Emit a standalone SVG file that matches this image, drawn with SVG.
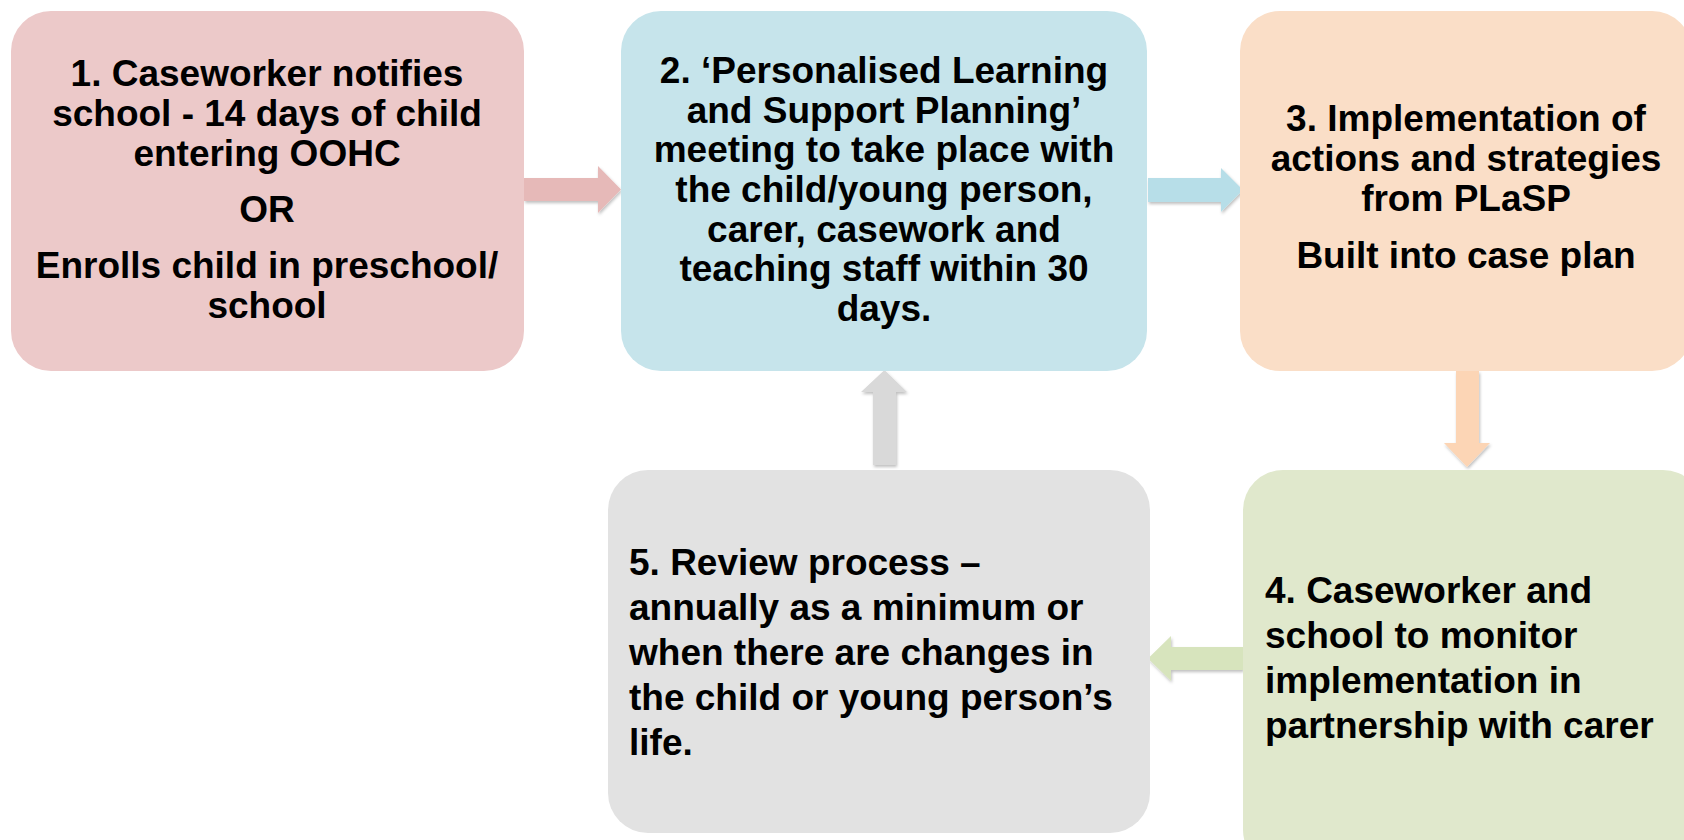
<svg xmlns="http://www.w3.org/2000/svg" width="1684" height="840" viewBox="0 0 1684 840">
<style>
text{font-family:"Liberation Sans",Arial,sans-serif;font-weight:bold;font-size:37px;fill:#000}
.c{text-anchor:middle}
</style>
<defs>
<filter id="sh" x="-20%" y="-20%" width="140%" height="140%">
<feDropShadow dx="1" dy="2" stdDeviation="1.5" flood-color="#000" flood-opacity="0.25"/>
</filter>
</defs>
<rect width="1684" height="840" fill="#fff"/>
<g id="connectors" filter="url(#sh)">
<polygon points="524,178 598,178 598,166 621,189.5 598,213 598,201 524,201" fill="#e6b9b8"/>
<polygon points="1148,178 1221,178 1221,168 1243,190 1221,212 1221,202 1148,202" fill="#b7dee8"/>
<polygon points="1456,371 1479,371 1479,443 1490,443 1467,467 1444,443 1456,443" fill="#fcd5b5"/>
<polygon points="1243,647 1171,647 1171,636 1148,658.5 1171,681 1171,670 1243,670" fill="#d7e4bd"/>
<polygon points="873,465 873,392 861,392 884.5,370 907,392 896,392 896,465" fill="#d9d9d9"/>
</g>
<g id="node1">
<rect x="11" y="11" width="513" height="360" rx="40" fill="#ecc9c9"/>
<text class="c" x="267" y="86">1. Caseworker notifies</text>
<text class="c" x="267" y="126">school - 14 days of child</text>
<text class="c" x="267" y="166">entering OOHC</text>
<text class="c" x="267" y="222">OR</text>
<text class="c" x="267" y="278">Enrolls child in preschool/</text>
<text class="c" x="267" y="318">school</text>
</g>
<g id="node2">
<rect x="621" y="11" width="526" height="360" rx="40" fill="#c6e4eb"/>
<text class="c" x="884" y="83">2. ‘Personalised Learning</text>
<text class="c" x="884" y="123">and Support Planning’</text>
<text class="c" x="884" y="162">meeting to take place with</text>
<text class="c" x="884" y="202">the child/young person,</text>
<text class="c" x="884" y="242">carer, casework and</text>
<text class="c" x="884" y="281">teaching staff within 30</text>
<text class="c" x="884" y="321">days.</text>
</g>
<g id="node3">
<rect x="1240" y="11" width="452" height="360" rx="40" fill="#fadec7"/>
<text class="c" x="1466" y="131">3. Implementation of</text>
<text class="c" x="1466" y="171">actions and strategies</text>
<text class="c" x="1466" y="211">from PLaSP</text>
<text class="c" x="1466" y="268">Built into case plan</text>
</g>
<g id="node4">
<rect x="1243" y="470" width="460" height="400" rx="40" fill="#e0e8cc"/>
<text x="1265" y="603">4. Caseworker and</text>
<text x="1265" y="648">school to monitor</text>
<text x="1265" y="693">implementation in</text>
<text x="1265" y="738">partnership with carer</text>
</g>
<g id="node5">
<rect x="608" y="470" width="542" height="363" rx="40" fill="#e2e2e2"/>
<text x="629" y="575">5. Review process –</text>
<text x="629" y="620">annually as a minimum or</text>
<text x="629" y="665">when there are changes in</text>
<text x="629" y="710">the child or young person’s</text>
<text x="629" y="755">life.</text>
</g>
</svg>
